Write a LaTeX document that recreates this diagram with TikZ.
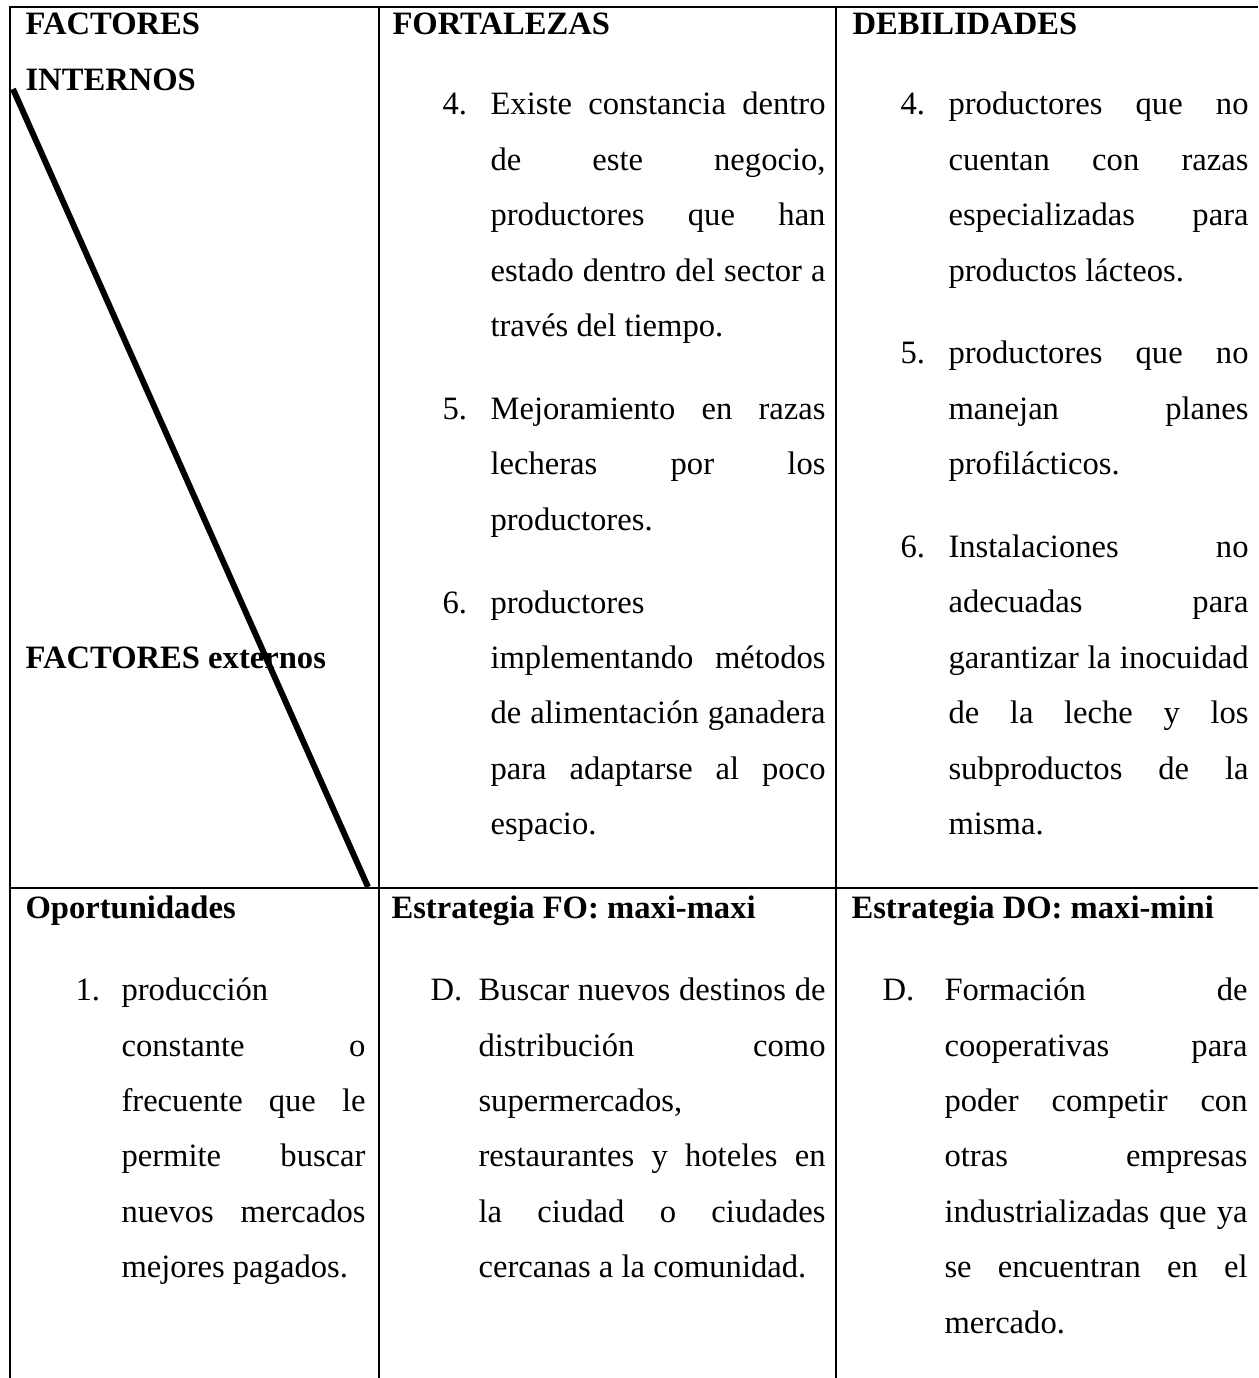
\documentclass[tikz,border=0pt]{standalone}
\usepackage{fontspec}
\setmainfont{Liberation Serif}
\setlength{\parindent}{0pt}
\tolerance=10000
\hbadness=10000
\hyphenpenalty=10000

\newdimen\pxlen \pxlen=0.368pt
\newdimen\fortwidth \fortwidth=335\pxlen
\newdimen\debwidth \debwidth=300\pxlen
\newdimen\opwidth \opwidth=244\pxlen
\newdimen\fowidth \fowidth=347\pxlen
\newdimen\dowidth \dowidth=303\pxlen
\newcommand\swotfont{\fontsize{12pt}{20.42pt}\selectfont}

\tikzset{
  gridline/.style={line width=0.8pt},
  headtext/.style={anchor=base west, inner sep=0pt, font=\swotfont\bfseries},
  itemnum/.style={anchor=base west, inner sep=0pt, font=\swotfont},
  itemtext/.style={anchor=base west, inner sep=0pt, font=\swotfont, align=justify, text width=#1}
}

\begin{document}
\begin{tikzpicture}[x=0.368pt, y=-0.368pt]
\useasboundingbox (0,0) rectangle (1258,1378);

% table lines
\draw[gridline] (10,1378) -- (10,7) -- (1258,7);
\draw[gridline] (379,7) -- (379,1378);
\draw[gridline] (836,7) -- (836,1378);
\draw[gridline] (10,888) -- (1258,888);

% first column
\node[headtext] (factint) at (25,35) {FACTORES};
\node[headtext] (internos) at (25,90.5) {INTERNOS};
\node[headtext] (factext) at (25,668.5) {FACTORES externos};

% fortalezas
\node[headtext] (fort) at (392,35) {FORTALEZAS};
\node[itemnum] (fortnum4) at (442,115) {4.};
\node[itemtext=\fortwidth] (fort4) at (490,115) {Existe constancia dentro\linebreak de este negocio,\linebreak productores que han\linebreak estado dentro del sector a\linebreak través del tiempo.};
\node[itemnum] (fortnum5) at (442,419.5) {5.};
\node[itemtext=\fortwidth] (fort5) at (490,419.5) {Mejoramiento en razas\linebreak lecheras por los\linebreak productores.};
\node[itemnum] (fortnum6) at (442,613) {6.};
\node[itemtext=\fortwidth] (fort6) at (490,613) {productores\linebreak implementando métodos\linebreak de alimentación ganadera\linebreak para adaptarse al poco\linebreak espacio.};

% debilidades
\node[headtext] (deb) at (852,35) {DEBILIDADES};
\node[itemnum] (debnum4) at (900,115) {4.};
\node[itemtext=\debwidth] (deb4) at (948,115) {productores que no\linebreak cuentan con razas\linebreak especializadas para\linebreak productos lácteos.};
\node[itemnum] (debnum5) at (900,364) {5.};
\node[itemtext=\debwidth] (deb5) at (948,364) {productores que no\linebreak manejan planes\linebreak profilácticos.};
\node[itemnum] (debnum6) at (900,557.5) {6.};
\node[itemtext=\debwidth] (deb6) at (948,557.5) {Instalaciones no\linebreak adecuadas para\linebreak garantizar la inocuidad\linebreak de la leche y los\linebreak subproductos de la\linebreak misma.};

% second row
\node[headtext] (oport) at (25,918) {Oportunidades};
\node[itemnum] (opnum1) at (75,1000.5) {1.};
\node[itemtext=\opwidth] (op1) at (121,1000.5) {producción\linebreak constante o\linebreak frecuente que le\linebreak permite buscar\linebreak nuevos mercados\linebreak mejores pagados.};

\node[headtext] (estfo) at (391,918) {Estrategia FO: maxi-maxi};
\node[itemnum] (fonumd) at (430,1000.5) {D.};
\node[itemtext=\fowidth] (fod) at (478,1000.5) {Buscar nuevos destinos de\linebreak distribución como\linebreak supermercados,\linebreak restaurantes y hoteles en\linebreak la ciudad o ciudades\linebreak cercanas a la comunidad.};

\node[headtext] (estdo) at (851,918) {Estrategia DO: maxi-mini};
\node[itemnum] (donumd) at (882,1000.5) {D.};
\node[itemtext=\dowidth] (dod) at (944,1000.5) {Formación de\linebreak cooperativas para\linebreak poder competir con\linebreak otras empresas\linebreak industrializadas que ya\linebreak se encuentran en el\linebreak mercado.};

% diagonal stroke
\coordinate (diagtop) at (13,89);
\coordinate (diagbot) at (368,887);
\draw[line width=2.2pt] (diagtop) -- (diagbot);
\end{tikzpicture}
\end{document}
